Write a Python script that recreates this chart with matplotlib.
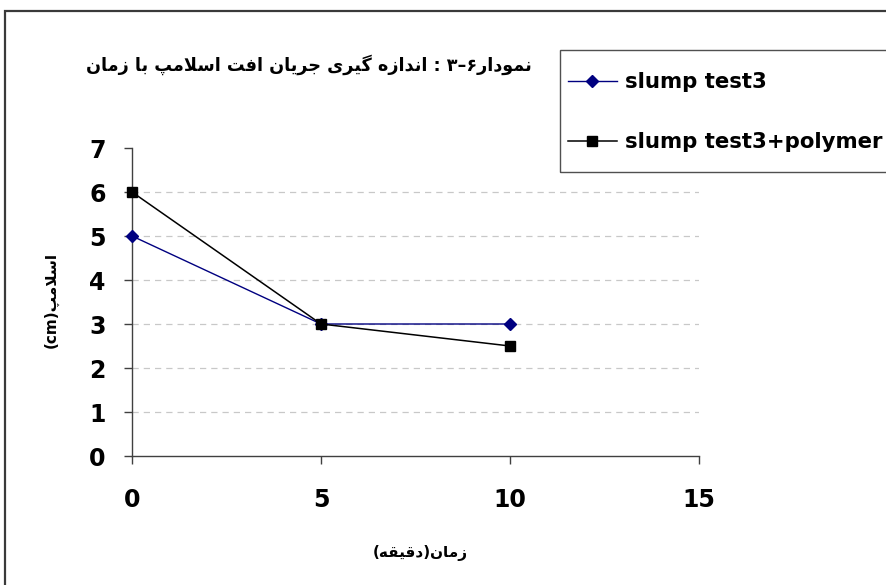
import matplotlib
matplotlib.use('Agg')
import matplotlib.pyplot as plt
from matplotlib.patches import Rectangle

# data
time_min = [0, 5, 10]
slump_test3 = [5, 3, 3]
slump_test3_polymer = [6, 3, 2.5]
series_labels = ['slump test3', 'slump test3+polymer']
x_ticks = [0, 5, 10, 15]
y_ticks = [0, 1, 2, 3, 4, 5, 6, 7]
title_text = 'نمودار۶–۳ : اندازه گیری جریان افت اسلامپ با زمان'
xlabel_text = 'زمان(دقیقه)'
ylabel_word = 'اسلامپ'

# persian letters -> (isolated, final, initial, medial) presentation forms
FORMS = {
    'ا': ('\uFE8D', '\uFE8E', None, None),
    'ب': ('\uFE8F', '\uFE90', '\uFE91', '\uFE92'),
    'پ': ('\uFB56', '\uFB57', '\uFB58', '\uFB59'),
    'ت': ('\uFE95', '\uFE96', '\uFE97', '\uFE98'),
    'ج': ('\uFE9D', '\uFE9E', '\uFE9F', '\uFEA0'),
    'د': ('\uFEA9', '\uFEAA', None, None),
    'ر': ('\uFEAD', '\uFEAE', None, None),
    'ز': ('\uFEAF', '\uFEB0', None, None),
    'س': ('\uFEB1', '\uFEB2', '\uFEB3', '\uFEB4'),
    'ف': ('\uFED1', '\uFED2', '\uFED3', '\uFED4'),
    'ق': ('\uFED5', '\uFED6', '\uFED7', '\uFED8'),
    'ک': ('\uFB8E', '\uFB8F', '\uFB90', '\uFB91'),
    'گ': ('\uFB92', '\uFB93', '\uFB94', '\uFB95'),
    'ل': ('\uFEDD', '\uFEDE', '\uFEDF', '\uFEE0'),
    'م': ('\uFEE1', '\uFEE2', '\uFEE3', '\uFEE4'),
    'ن': ('\uFEE5', '\uFEE6', '\uFEE7', '\uFEE8'),
    'و': ('\uFEED', '\uFEEE', None, None),
    'ه': ('\uFEE9', '\uFEEA', '\uFEEB', '\uFEEC'),
    'ی': ('\uFBFC', '\uFBFD', '\uFBFE', '\uFBFF'),
}


def rtl(text):
    # crude shaping + reversal since matplotlib has no bidi support
    out = []
    i = 0
    while i < len(text):
        c = text[i]
        if c not in FORMS:
            out.append({'(': ')', ')': '('}.get(c, c))
            i += 1
            continue
        prev = text[i - 1] if i > 0 else ''
        link_prev = prev in FORMS and FORMS[prev][2] is not None
        if c == 'ل' and i + 1 < len(text) and text[i + 1] == 'ا':
            out.append('\uFEFC' if link_prev else '\uFEFB')
            i += 2
            continue
        nxt = text[i + 1] if i + 1 < len(text) else ''
        link_next = FORMS[c][2] is not None and nxt in FORMS
        iso, fin, ini, med = FORMS[c]
        if link_prev and link_next:
            out.append(med)
        elif link_prev:
            out.append(fin)
        elif link_next:
            out.append(ini)
        else:
            out.append(iso)
        i += 1
    return ''.join(reversed(out))


plt.rcParams['font.family'] = ['DejaVu Sans']
plt.rcParams['font.weight'] = 'bold'

W, H = 886, 585
fig = plt.figure(figsize=(W / 100, H / 100), dpi=100)
fig.patch.set_facecolor('white')

ax = fig.add_axes([132 / W, 1 - 456 / H, (699 - 132) / W, (456 - 148) / H])
axis_col = '#404040'

l1, = ax.plot(time_min, slump_test3, color='#000080', lw=1.0, marker='D',
              markersize=6, markerfacecolor='#000080', markeredgecolor='#000080',
              label=series_labels[0], clip_on=False, zorder=3)
l2, = ax.plot(time_min, slump_test3_polymer, color='black', lw=1.1, marker='s',
              markersize=6.5, markerfacecolor='black', markeredgecolor='black',
              label=series_labels[1], clip_on=False, zorder=4)

ax.set_xlim(x_ticks[0], x_ticks[-1])
ax.set_ylim(y_ticks[0], y_ticks[-1])
ax.set_xticks(x_ticks)
ax.set_yticks(y_ticks)

ax.yaxis.grid(True, color='#c8c8c8', linestyle=(0, (5, 4)), lw=0.9)
ax.get_ygridlines()[-1].set_visible(False)
ax.get_ygridlines()[0].set_visible(False)
ax.set_axisbelow(True)

for s in ['top', 'right']:
    ax.spines[s].set_visible(False)
for s in ['left', 'bottom']:
    ax.spines[s].set_color(axis_col)
    ax.spines[s].set_linewidth(1.0)

ax.tick_params(axis='x', direction='out', length=6, width=1, color=axis_col,
               pad=17, labelsize=17)
ax.tick_params(axis='y', direction='out', length=6, width=1, color=axis_col,
               pad=13, labelsize=17)
for lab in ax.get_xticklabels() + ax.get_yticklabels():
    lab.set_fontweight('bold')

# title
fig.text(532 / W, 1 - 65 / H, rtl(title_text), ha='right', va='center',
         fontsize=12.7, fontweight='bold')

# axis labels
fig.text(420 / W, 1 - 553 / H, rtl(xlabel_text), ha='center', va='center',
         fontsize=11, fontweight='bold')
fig.text(51 / W, 1 - 300 / H, '(cm)' + rtl(ylabel_word), ha='center', va='center',
         rotation=90, fontsize=11, fontweight='bold')

# legend
leg = ax.legend(handles=[l1, l2], loc='upper left',
                bbox_to_anchor=(568 / W, 1 - 72 / H), bbox_transform=fig.transFigure,
                frameon=False, borderpad=0, borderaxespad=0, handlelength=2.3,
                handletextpad=0.4, labelspacing=1.9,
                prop={'size': 15.3, 'weight': 'bold'})

fig.add_artist(Rectangle((560 / W, 1 - 172 / H), 340 / W, 122 / H,
                         transform=fig.transFigure, fill=False,
                         edgecolor='#505050', lw=1.0))
# outer chart border
fig.add_artist(Rectangle((5 / W, -0.05), 1.0, 1 - 11 / H + 0.05,
                         transform=fig.transFigure, fill=False,
                         edgecolor='#3a3a3a', lw=1.6))

fig.savefig('out.png', dpi=100)
